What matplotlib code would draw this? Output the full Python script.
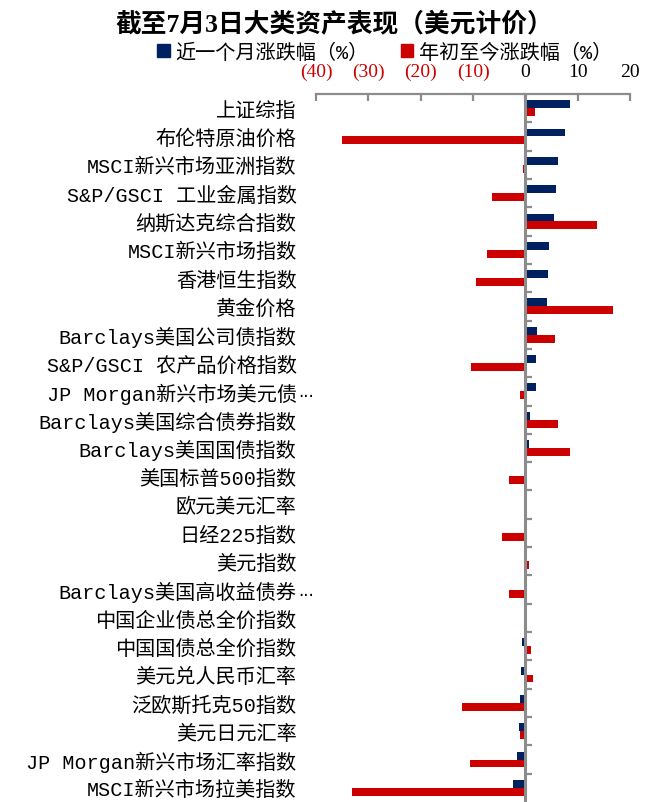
import numpy as np
import matplotlib.pyplot as plt
from matplotlib.patches import Patch

# categories, top to bottom
assets = ["上证综指", "布伦特原油价格", "MSCI新兴市场亚洲指数", "S&P/GSCI 工业金属指数",
          "纳斯达克综合指数", "MSCI新兴市场指数", "香港恒生指数", "黄金价格",
          "Barclays美国公司债指数", "S&P/GSCI 农产品价格指数", "JP Morgan新兴市场美元债",
          "Barclays美国综合债券指数", "Barclays美国国债指数", "美国标普500指数",
          "欧元美元汇率", "日经225指数", "美元指数", "Barclays美国高收益债券",
          "中国企业债总全价指数", "中国国债总全价指数", "美元兑人民币汇率",
          "泛欧斯托克50指数", "美元日元汇率", "JP Morgan新兴市场汇率指数",
          "MSCI新兴市场拉美指数"]
truncated = ["JP Morgan新兴市场美元债", "Barclays美国高收益债券"]

# 近一个月涨跌幅 (%)
month_chg = [8.5, 7.5, 6.3, 5.8, 5.4, 4.5, 4.3, 4.2, 2.2, 2.0, 2.0, 0.9, 0.7,
             0.1, 0.05, 0.0, 0.0, -0.1, -0.3, -0.6, -0.8, -1.0, -1.3, -1.5, -2.3]
# 年初至今涨跌幅 (%)
ytd_chg = [1.8, -35.1, -0.5, -6.4, 13.7, -7.3, -9.5, 16.7, 5.6, -10.4, -1.0, 6.2,
           8.6, -3.1, 0.3, -4.5, 0.7, -3.1, 0.1, 1.1, 1.5, -12.1, -1.1, -10.6, -33.1]

xticks = [-40, -30, -20, -10, 0, 10, 20]

blue = "#002060"
red = "#CC0000"
grey = "#8C8C8C"
cjk = ["Liberation Mono", "Noto Sans CJK SC"]
serif = ["Liberation Serif", "Noto Sans CJK SC"]

fig = plt.figure(figsize=(6.48, 8.03), dpi=100)
ax = fig.add_axes([0.4877, 0.0, 0.4845, 0.8817])

y = np.arange(len(assets))
h = 0.28
ax.barh(y - h / 2, month_chg, height=h, color=blue, label="近一个月涨跌幅（%）")
ax.barh(y + h / 2, ytd_chg, height=h, color=red, label="年初至今涨跌幅（%）")

ax.set_xlim(-40, 20)
ax.set_ylim(len(assets) - 0.5, -0.5)

# zero line and category separators
ax.axvline(0, color=grey, lw=2.2, zorder=3)
ax.hlines(np.arange(len(assets) - 1) + 0.5, 0, 1.2, color=grey, lw=1.6, zorder=3)

for s in ["left", "right", "bottom"]:
    ax.spines[s].set_visible(False)
ax.spines["top"].set_color(grey)
ax.spines["top"].set_linewidth(1.6)

ax.xaxis.tick_top()
ax.set_xticks(xticks)
ax.set_xticklabels([f"({-v})" if v < 0 else str(v) for v in xticks],
                   family=serif, fontsize=14)
for lbl, v in zip(ax.get_xticklabels(), xticks):
    lbl.set_color(red if v < 0 else "black")
ax.tick_params(axis="x", direction="in", length=5, width=1.6, color=grey, pad=10)

ax.set_yticks(y)
ax.set_yticklabels(assets, family=cjk, fontsize=14.5)
ax.tick_params(axis="y", length=0, pad=14)

# the cut-off labels get their ellipsis sticking out
for name in truncated:
    i = assets.index(name)
    ax.annotate("...", xy=(0, i), xycoords=("axes fraction", "data"),
                xytext=(-13, 0), textcoords="offset points",
                ha="left", va="center", fontsize=12, family="DejaVu Sans")

fig.text(0.516, 0.971, "截至7月3日大类资产表现（美元计价）", ha="center", va="center",
         fontsize=18.5, fontweight="bold", family=serif)

handles = [Patch(color=blue), Patch(color=red)]
fig.legend(handles, ["近一个月涨跌幅（%）", "年初至今涨跌幅（%）"],
           loc="center", bbox_to_anchor=(0.594, 0.934), ncol=2, frameon=False,
           prop={"family": cjk, "size": 14.5}, handlelength=0.6, handleheight=0.6,
           handletextpad=0.3, columnspacing=1.6, borderpad=0)

fig.savefig("out.png", dpi=100)
